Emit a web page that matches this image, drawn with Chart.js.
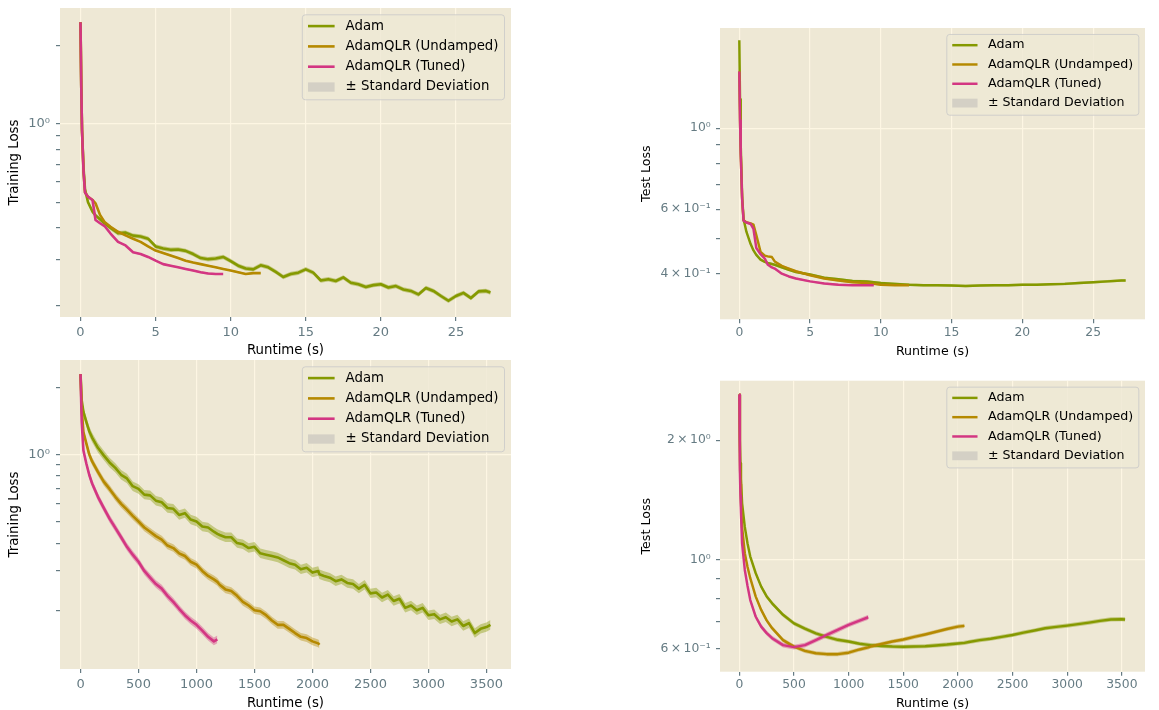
<!DOCTYPE html>
<html><head><meta charset="utf-8">
<script src="https://cdn.jsdelivr.net/npm/chart.js@4.4.0/dist/chart.umd.min.js"></script>
<style>
html,body{margin:0;padding:0;background:#fff;width:1159px;height:710px;overflow:hidden}
canvas{position:absolute}
</style></head><body>
<canvas id="c1" width="540" height="362" style="left:0px;top:0px"></canvas>
<canvas id="c2" width="539" height="362" style="left:620px;top:0px"></canvas>
<canvas id="c3" width="540" height="355" style="left:0px;top:355px"></canvas>
<canvas id="c4" width="539" height="355" style="left:620px;top:355px"></canvas>
<script>
// ---------- labels ----------
const seriesNames = ['Adam', 'AdamQLR (Undamped)', 'AdamQLR (Tuned)'];
const bandLabel = '± Standard Deviation';
const xTitle = 'Runtime (s)';

// ---------- panel 1: training loss, short run ----------
const trainShortTime = [0,0.05,0.1,0.2,0.3,0.5,0.8,1.0,1.3,1.6,
  2,2.5,3,3.5,4,4.5,5,5.5,6,6.5,7,7.5,8,8.5,9,9.5,10,10.5,11,11.5,12,12.5,13,13.5,14,14.5,15,15.5,16,16.5,17,17.5,18,18.5,19,19.5,20,20.5,21,21.5,22,22.5,23,23.5,24,24.5,25,25.5,26,26.5,27,27.3];
const trainShortAdam = [2.46,1.4,0.95,0.68,0.56,0.5,0.46,0.445,0.43,0.415,
  0.398,0.38,0.382,0.372,0.369,0.362,0.338,0.332,0.328,0.329,0.325,0.316,0.305,0.302,0.304,0.308,0.297,0.285,0.278,0.276,0.286,0.281,0.27,0.258,0.265,0.268,0.276,0.268,0.25,0.253,0.249,0.257,0.245,0.242,0.236,0.24,0.242,0.235,0.238,0.231,0.228,0.221,0.234,0.228,0.218,0.209,0.218,0.224,0.214,0.227,0.228,0.225];
const trainShortUndamped = [2.46,1.4,0.95,0.66,0.545,0.525,0.51,0.495,0.447,0.42,
  0.402,0.385,0.373,0.362,0.352,0.338,0.326,0.319,0.312,0.305,0.298,0.293,0.289,0.285,0.281,0.277,0.273,0.269,0.265,0.267,0.267];
const trainShortTuned = [2.46,1.4,0.95,0.66,0.545,0.525,0.51,0.427,0.415,0.405,
  0.379,0.352,0.341,0.321,0.316,0.308,0.298,0.289,0.285,0.281,0.277,0.273,0.269,0.266,0.265,0.265];
const trainShortStd = [0.02, 0.008, 0.008];

// ---------- panel 2: test loss, short run ----------
const testShortTime = [0,0.05,0.1,0.2,0.3,0.5,0.8,1.0,1.2,1.5,1.8,2.0,2.3,2.5,3,3.5,4,5,6,7,8,9,9.5,
  10,11,12,13,14,15,16,17,18,19,20,21,22,23,24,25,26,27,27.3];
const testShortAdam = [1.74,1.2,0.9,0.65,0.564,0.521,0.482,0.463,0.45,0.437,0.431,0.428,0.425,0.423,0.416,0.41,0.404,0.398,0.39,0.386,0.382,0.381,0.379,
  0.377,0.375,0.373,0.372,0.372,0.371,0.37,0.371,0.372,0.372,0.373,0.373,0.374,0.375,0.377,0.379,0.381,0.383,0.383];
const testShortUndamped = [1.43,1.05,0.85,0.64,0.56,0.553,0.549,0.545,0.51,0.459,0.448,0.446,0.444,0.432,0.42,0.413,0.406,0.396,0.388,0.383,0.379,0.377,0.375,
  0.373,0.372,0.372];
const testShortTuned = [1.43,1.05,0.85,0.64,0.558,0.552,0.547,0.53,0.47,0.452,0.44,0.424,0.416,0.413,0.4,0.393,0.388,0.381,0.376,0.373,0.372,0.372,0.372];
const testShortStd = [0.008, 0.006, 0.006];

// ---------- panel 3: training loss, long run ----------
const trainLongTime = [0,10,25,50,75,100,
  150,200,250,300,350,400,450,500,550,600,650,700,750,800,850,900,950,1000,1050,1100,1150,1180,
  1200,1250,1300,1350,1400,1450,1500,1550,1600,1650,1700,1750,1800,1850,1900,1950,2000,2050,2060,
  2100,2150,2200,2250,2300,2350,2400,2450,2500,2550,2600,2650,2700,2750,2800,2850,2900,2950,3000,3050,3100,3150,3200,3250,3300,3350,3400,3450,3500,3535];
const trainLongAdam = [2.29,1.75,1.55,1.40,1.27,1.19,
  1.07,0.99,0.92,0.87,0.81,0.78,0.72,0.70,0.66,0.655,0.62,0.61,0.575,0.57,0.535,0.545,0.51,0.50,0.475,0.47,0.45,0.44,
  0.435,0.425,0.425,0.40,0.395,0.38,0.385,0.36,0.355,0.35,0.345,0.335,0.325,0.32,0.305,0.31,0.295,0.30,0.29,
  0.285,0.28,0.27,0.275,0.265,0.262,0.25,0.26,0.238,0.24,0.228,0.235,0.22,0.225,0.205,0.21,0.2,0.205,0.19,0.192,0.182,0.186,0.178,0.182,0.17,0.175,0.158,0.165,0.168,0.172];
const trainLongUndamped = [2.29,1.6,1.26,1.12,1.0,0.93,
  0.835,0.755,0.70,0.645,0.60,0.565,0.53,0.50,0.47,0.45,0.43,0.415,0.39,0.38,0.36,0.35,0.33,0.32,0.30,0.285,0.275,0.268,
  0.26,0.248,0.244,0.232,0.218,0.21,0.2,0.198,0.19,0.18,0.172,0.172,0.165,0.158,0.152,0.15,0.145,0.142,0.14];
const trainLongTuned = [2.29,1.4,1.04,0.91,0.81,0.74,
  0.645,0.575,0.515,0.468,0.425,0.385,0.355,0.33,0.30,0.28,0.262,0.25,0.232,0.218,0.203,0.19,0.18,0.172,0.162,0.152,0.145,0.148];
const trainLongStd = [0.05, 0.04, 0.04];

// ---------- panel 4: test loss, long run ----------
const testLongTime = [0,5,10,15,25,50,75,100,150,200,250,300,
  400,500,600,700,800,900,1000,1100,1180,
  1200,1300,1400,1500,1600,1700,1800,1900,2000,2060,
  2100,2200,2300,2400,2500,2600,2700,2800,2900,3000,3100,3200,3300,3400,3500,3530];
const testLongAdam = [2.6,2.0,1.75,1.6,1.39,1.21,1.1,1.02,0.926,0.857,0.81,0.778,
  0.728,0.693,0.672,0.654,0.641,0.63,0.624,0.616,0.612,
  0.611,0.608,0.606,0.605,0.606,0.607,0.61,0.613,0.617,0.619,
  0.622,0.629,0.634,0.641,0.648,0.657,0.665,0.674,0.679,0.684,0.69,0.696,0.703,0.709,0.71,0.709];
const testLongUndamped = [2.6,1.8,1.55,1.4,1.21,1.04,0.96,0.9,0.809,0.749,0.705,0.674,
  0.629,0.606,0.591,0.583,0.58,0.58,0.585,0.596,0.603,
  0.606,0.615,0.624,0.631,0.641,0.65,0.66,0.671,0.68,0.683];
const testLongTuned = [2.6,1.68,1.45,1.31,1.10,0.944,0.86,0.793,0.72,0.68,0.655,0.636,
  0.611,0.604,0.611,0.629,0.648,0.667,0.687,0.704,0.718];
const testLongStd = [0.012, 0.012, 0.014];

// ---------- tick definitions ----------
const xTicksShort = [0,5,10,15,20,25];
const xTicksLong = [0,500,1000,1500,2000,2500,3000,3500];
const yTicksTrainShort = [0.2,0.3,0.4,0.5,0.6,0.7,0.8,0.9,1,2];
const yLabelsTrainShort = ['','','','','','','','','10⁰',''];
const yTicksTestShort = [0.4,0.5,0.6,0.7,0.8,0.9,1];
const yLabelsTestShort = ['4\u2009×\u200910⁻¹','','6\u2009×\u200910⁻¹','','','','10⁰'];
const yTicksTrainLong = [0.2,0.3,0.4,0.5,0.6,0.7,0.8,0.9,1,2];
const yLabelsTrainLong = ['','','','','','','','','10⁰',''];
const yTicksTestLong = [0.6,0.7,0.8,0.9,1,2];
const yLabelsTestLong = ['6\u2009×\u200910⁻¹','','','','10⁰','2\u2009×\u200910⁰'];

// ---------- styling ----------
const FONT = "'DejaVu Sans', sans-serif";
const TICK_COLOR = '#657b83';
const GRID = '#fdf6e3';
const FACE = '#eee8d5';
const COLORS = ['#859900', '#b58900', '#d33682'];
function rgba(hex, a) {
  const n = parseInt(hex.slice(1), 16);
  return `rgba(${(n>>16)&255},${(n>>8)&255},${n&255},${a})`;
}

const bgPlugin = {
  id: 'bg',
  beforeDraw(chart) {
    const {ctx, chartArea: a} = chart;
    ctx.save(); ctx.fillStyle = FACE;
    ctx.fillRect(a.left, a.top, a.right - a.left, a.bottom - a.top);
    ctx.restore();
  }
};

const inLegend = {
  id: 'inLegend',
  afterDraw(chart, args, opts) {
    const k = opts.k, ctx = chart.ctx, a = chart.chartArea;
    const labels = seriesNames.concat([bandLabel]);
    ctx.save();
    ctx.font = `${13.3*k}px ${FONT}`;
    const tw = Math.max(...labels.map(t => ctx.measureText(t).width));
    const w = 43.3*k + tw + 6*k, h = 85*k;
    const right = a.right - 6.5*k, top = a.top + 6.8*k, left = right - w;
    const r = 3*k;
    ctx.beginPath();
    ctx.moveTo(left + r, top); ctx.lineTo(right - r, top); ctx.arcTo(right, top, right, top + r, r);
    ctx.lineTo(right, top + h - r); ctx.arcTo(right, top + h, right - r, top + h, r);
    ctx.lineTo(left + r, top + h); ctx.arcTo(left, top + h, left, top + h - r, r);
    ctx.lineTo(left, top + r); ctx.arcTo(left, top, left + r, top, r); ctx.closePath();
    ctx.fillStyle = 'rgba(238,232,213,0.8)'; ctx.fill();
    ctx.strokeStyle = 'rgba(200,200,200,0.8)'; ctx.lineWidth = 1; ctx.stroke();
    labels.forEach((t, i) => {
      const y = top + 11.3*k + i*20.3*k;
      const hx = left + 5.7*k, hl = 26.6*k;
      if (i < 3) {
        ctx.strokeStyle = COLORS[i]; ctx.lineWidth = 2.6*k;
        ctx.beginPath(); ctx.moveTo(hx, y); ctx.lineTo(hx + hl, y); ctx.stroke();
      } else {
        ctx.fillStyle = '#d4d0c5';
        ctx.fillRect(hx, y - 4.6*k, hl, 9.3*k);
      }
      ctx.fillStyle = '#000'; ctx.textBaseline = 'middle'; ctx.textAlign = 'left';
      ctx.fillText(t, left + 43.3*k, y);
    });
    ctx.restore();
  }
};

function buildDatasets(time, seriesList, stdList, lw) {
  const ds = [];
  seriesList.forEach((vals, i) => {
    ds.push({data: vals.map((v, j) => ({x: time[j], y: v*(1+stdList[i])})),
      borderWidth: 0, borderColor: 'rgba(0,0,0,0)', pointRadius: 0, fill: false, order: 10 - i});
    ds.push({data: vals.map((v, j) => ({x: time[j], y: v/(1+stdList[i])})),
      borderWidth: 0, borderColor: 'rgba(0,0,0,0)', pointRadius: 0, fill: '-1',
      backgroundColor: rgba(COLORS[i], 0.4), order: 10 - i});
  });
  seriesList.forEach((vals, i) => {
    ds.push({data: vals.map((v, j) => ({x: time[j], y: v})), borderColor: COLORS[i],
      borderWidth: lw, pointRadius: 0, fill: false, order: 5 - i,
      borderJoinStyle: 'round', tension: 0});
  });
  return ds;
}

function makePanel(p) {
  const k = p.k;
  new Chart(document.getElementById(p.id), {
    type: 'line',
    data: {datasets: buildDatasets(p.time, p.series, p.std, 2.6*k)},
    plugins: [bgPlugin, inLegend],
    options: {
      responsive: false, animation: false, events: [],
      layout: {padding: {left: 0, top: p.padTop, right: p.padRight, bottom: 0}},
      plugins: {legend: {display: false}, tooltip: {enabled: false}, inLegend: {k: k}},
      scales: {
        x: {
          type: 'linear', min: p.xMin, max: p.xMax,
          afterFit(s) { s.height = p.xH; s.paddingLeft = 0; s.paddingRight = 0; s.paddingTop = 0; s.paddingBottom = 0; },
          afterBuildTicks(s) { s.ticks = p.xTicks.map(v => ({value: v})); },
          ticks: {callback: v => String(v), color: TICK_COLOR, font: {family: FONT, size: 13*k},
            padding: p.xTickPad, autoSkip: false, maxRotation: 0},
          grid: {color: GRID, lineWidth: 1.2, tickColor: TICK_COLOR, tickLength: 4},
          border: {display: false},
          title: {display: true, text: xTitle, color: '#000', font: {family: FONT, size: 13.3*k, lineHeight: 1},
            padding: {top: 0, bottom: p.xTitlePad}}
        },
        y: {
          type: 'logarithmic', min: p.yMin, max: p.yMax,
          afterFit(s) { s.width = p.yW; s.paddingLeft = 0; s.paddingRight = 0; s.paddingTop = 0; s.paddingBottom = 0; },
          afterBuildTicks(s) { s.ticks = p.yTicks.map(v => ({value: v})); },
          ticks: {callback: v => { const i = p.yTicks.indexOf(v); return i >= 0 ? p.yLabels[i] : ''; },
            color: TICK_COLOR, font: {family: FONT, size: 13*k}, padding: p.yTickPad, autoSkip: false},
          grid: {color: c => (c.tick && c.tick.value === 1) ? GRID : 'rgba(0,0,0,0)',
            lineWidth: 1.2, tickColor: TICK_COLOR, tickLength: 4},
          border: {display: false},
          title: {display: true, text: p.yTitle, color: '#000', font: {family: FONT, size: 13.3*k, lineHeight: 1},
            padding: {top: p.yTitlePad, bottom: 0}}
        }
      }
    }
  });
}

makePanel({id: 'c1', k: 1, time: trainShortTime,
  series: [trainShortAdam, trainShortUndamped, trainShortTuned], std: trainShortStd,
  xMin: -1.365, xMax: 28.665, xTicks: xTicksShort,
  yMin: 0.181, yMax: 2.79, yTicks: yTicksTrainShort, yLabels: yLabelsTrainShort,
  yTitle: 'Training Loss', padTop: 8, padRight: 29, yW: 60, xH: 45,
  xTickPad: 3.5, yTickPad: 6, xTitlePad: 4.6, yTitlePad: 7.6});
makePanel({id: 'c2', k: 0.95, time: testShortTime,
  series: [testShortAdam, testShortUndamped, testShortTuned], std: testShortStd,
  xMin: -1.365, xMax: 28.665, xTicks: xTicksShort,
  yMin: 0.343, yMax: 1.88, yTicks: yTicksTestShort, yLabels: yLabelsTestShort,
  yTitle: 'Test Loss', padTop: 28, padRight: 14, yW: 100, xH: 42.7,
  xTickPad: 2.3, yTickPad: 5.3, xTitlePad: 4, yTitlePad: 20.4});
makePanel({id: 'c3', k: 1, time: trainLongTime,
  series: [trainLongAdam, trainLongUndamped, trainLongTuned], std: trainLongStd,
  xMin: -177, xMax: 3712, xTicks: xTicksLong,
  yMin: 0.109, yMax: 2.65, yTicks: yTicksTrainLong, yLabels: yLabelsTrainLong,
  yTitle: 'Training Loss', padTop: 5, padRight: 29, yW: 60, xH: 41,
  xTickPad: 3.5, yTickPad: 6, xTitlePad: 0, yTitlePad: 7.6});
makePanel({id: 'c4', k: 0.95, time: testLongTime,
  series: [testLongAdam, testLongUndamped, testLongTuned], std: testLongStd,
  xMin: -177, xMax: 3712, xTicks: xTicksLong,
  yMin: 0.524, yMax: 2.82, yTicks: yTicksTestLong, yLabels: yLabelsTestLong,
  yTitle: 'Test Loss', padTop: 25.7, padRight: 14, yW: 100, xH: 38.3,
  xTickPad: 2, yTickPad: 5.3, xTitlePad: 0.4, yTitlePad: 20.4});
</script>
</body></html>
